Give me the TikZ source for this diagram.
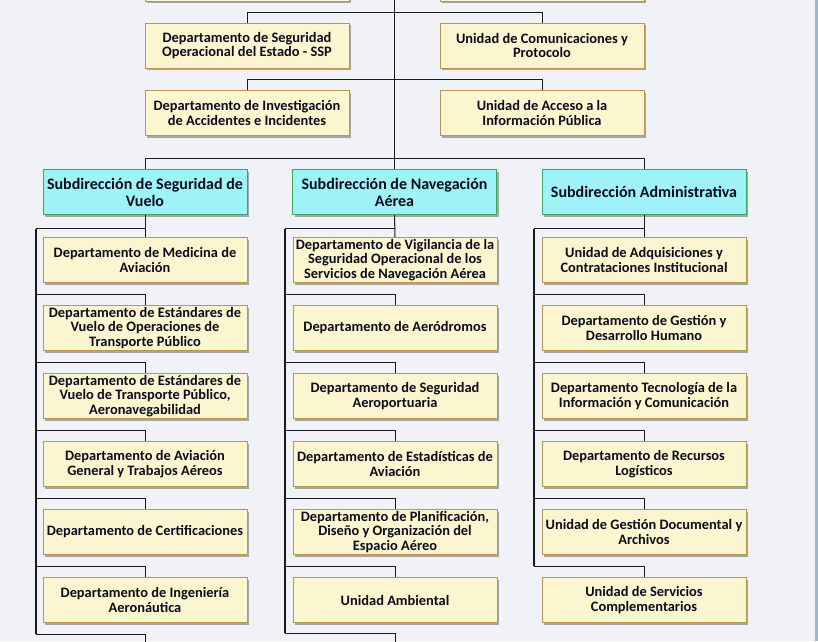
\documentclass[tikz,border=0pt]{standalone}
\usepackage{fontspec}
\setmainfont{Carlito}
\usetikzlibrary{shadows}
\definecolor{bg}{HTML}{F0F2F7}
\definecolor{yfill}{HTML}{FBF5D0}
\definecolor{ydraw}{HTML}{B49A50}
\definecolor{cfill}{HTML}{9FF3F7}
\definecolor{cdraw}{HTML}{3AA55C}
\definecolor{edgec}{HTML}{A3B6C6}
\definecolor{wirec}{HTML}{1A1A1A}
\definecolor{txt}{HTML}{0C0C1C}
\tikzset{
 unit/.style={draw=ydraw, fill=yfill, line width=1pt, minimum width=204pt, minimum height=45pt,
   inner sep=0pt, align=center, font=\bfseries\fontsize{14.4}{14.8}\selectfont, text=txt,
   drop shadow={shadow xshift=2pt, shadow yshift=-2pt, fill=black!35, opacity=1}},
 sub/.style={unit, draw=cdraw, fill=cfill, font=\bfseries\fontsize{16}{17}\selectfont},
 wire/.style={draw=wirec, line width=1pt},
 trunk/.style={draw=wirec, line width=1.5pt},
}
\begin{document}
\begin{tikzpicture}[x=1pt,y=-1pt]
\useasboundingbox (0,0) rectangle (818,641);
\clip (0,0) rectangle (818,641);
\fill[bg] (0,0) rectangle (818,641);
\fill[edgec] (815,0) rectangle (818,641);

% cut-off boxes at top
\node[unit] (tl) at (247,-21.5) {};
\node[unit] (tr) at (542,-21.5) {};

% top levels
\node[unit] (ssp) at (247,45.5) {Departamento de Seguridad\\Operacional del Estado - SSP};
\node[unit] (ucp) at (542,45.5) {Unidad de Comunicaciones y\\Protocolo};
\node[unit] (dia) at (247,113) {Departamento de Investigación\\de Accidentes e Incidentes};
\node[unit] (uai) at (542,113) {Unidad de Acceso a la\\Información Pública};

\node[sub] (sv) at (145,192) {Subdirección de Seguridad de\\Vuelo};
\node[sub] (sn) at (394.5,192) {Subdirección de Navegación\\Aérea};
\node[sub] (sa) at (644,192) {Subdirección Administrativa};

\coordinate (top) at (394.5,-5);
\coordinate (r1) at (394.5,12);
\coordinate (r2) at (394.5,79);
\coordinate (r3) at (394.5,158);
\draw[wire] (top) -- (sn.north);
\draw[wire] (ssp.north) |- (ucp.north |- r1) -- (ucp.north);
\draw[wire] (dia.north) |- (uai.north |- r2) -- (uai.north);
\draw[wire] (sv.north) |- (sa.north |- r3) -- (sa.north);

% left column
\node[unit] (l1) at (145,260) {Departamento de Medicina de\\Aviación};
\node[unit] (l2) at (145,328) {Departamento de Estándares de\\Vuelo de Operaciones de\\Transporte Público};
\node[unit] (l3) at (145,396) {Departamento de Estándares de\\Vuelo de Transporte Público,\\Aeronavegabilidad};
\node[unit] (l4) at (145,464) {Departamento de Aviación\\General y Trabajos Aéreos};
\node[unit] (l5) at (145,532) {Departamento de Certificaciones};
\node[unit] (l6) at (145,600) {Departamento de Ingeniería\\Aeronáutica};
\coordinate (lt) at (36,228.5);
\coordinate (l7) at (145,660);
\coordinate (lb) at (36,634);

% middle column
\node[unit] (m1) at (395,260) {Departamento de Vigilancia de la\\Seguridad Operacional de los\\Servicios de Navegación Aérea};
\node[unit] (m2) at (395,328) {Departamento de Aeródromos};
\node[unit] (m3) at (395,396) {Departamento de Seguridad\\Aeroportuaria};
\node[unit] (m4) at (395,464) {Departamento de Estadísticas de\\Aviación};
\node[unit] (m5) at (395,532) {Departamento de Planificación,\\Diseño y Organización del\\Espacio Aéreo};
\node[unit] (m6) at (395,600) {Unidad Ambiental};
\coordinate (mt) at (285,228.5);
\coordinate (m7) at (395,660);
\coordinate (mb) at (285,633);

% right column
\node[unit] (a1) at (644,260) {Unidad de Adquisiciones y\\Contrataciones Institucional};
\node[unit] (a2) at (644,328) {Departamento de Gestión y\\Desarrollo Humano};
\node[unit] (a3) at (644,396) {Departamento Tecnología de la\\Información y Comunicación};
\node[unit] (a4) at (644,464) {Departamento de Recursos\\Logísticos};
\node[unit] (a5) at (644,532) {Unidad de Gestión Documental y\\Archivos};
\node[unit] (a6) at (644,600) {Unidad de Servicios\\Complementarios};
\coordinate (at) at (534,228.5);

% connectors: left
\draw[wire] (sv.south) -- (l1.north);
\draw[wire] (lt) -- (sv.south |- lt);
\foreach \n in {l2,l3,l4,l5,l6}{
  \draw[wire] (\n.north) |- ([yshift=11pt]lt |- \n.north);
}
\draw[wire] (l7) |- (lb);
\draw[trunk] (lt) -- (lb);

% connectors: middle
\draw[wire] (sn.south) -- (m1.north);
\draw[wire] (mt) -- (sn.south |- mt);
\foreach \n in {m2,m3,m4,m5,m6}{
  \draw[wire] (\n.north) |- ([yshift=11pt]mt |- \n.north);
}
\draw[wire] (m7) |- (mb);
\draw[trunk] (mt) -- (mb);

% connectors: right
\draw[wire] (sa.south) -- (a1.north);
\draw[wire] (at) -- (sa.south |- at);
\foreach \n in {a2,a3,a4,a5,a6}{
  \draw[wire] (\n.north) |- ([yshift=11pt]at |- \n.north);
}
\draw[trunk] (at) -- ([yshift=11pt]at |- a6.north);
\end{tikzpicture}
\end{document}
